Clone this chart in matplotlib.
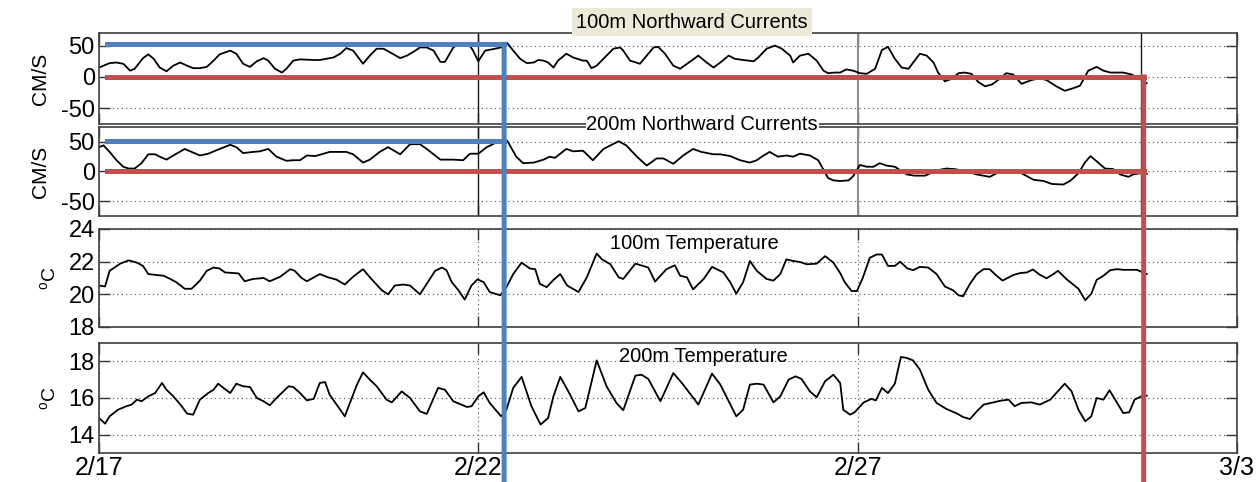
import matplotlib.pyplot as plt
from matplotlib.patches import ConnectionPatch
from matplotlib.transforms import blended_transform_factory

plt.rcParams['font.family'] = ['Liberation Sans', 'DejaVu Sans']
plt.rcParams['mathtext.fontset'] = 'custom'
plt.rcParams['mathtext.rm'] = 'Liberation Sans'
plt.rcParams['axes.unicode_minus'] = False

# time axis: days since 2/17
TICK_DAYS = [0, 5, 10, 15]
TICK_LABELS = ['2/17', '2/22', '2/27', '3/3']

# 100m northward current (cm/s)
NC100_DAY = [0.00, 0.14, 0.23, 0.32, 0.41, 0.47, 0.58, 0.65, 0.72, 0.80,
             0.89, 0.98, 1.07, 1.16, 1.24, 1.33, 1.42, 1.51, 1.59, 1.73,
             1.81, 1.90, 1.99, 2.08, 2.17, 2.23, 2.32, 2.41, 2.47, 2.56,
             2.65, 2.83, 2.91, 3.00, 3.09, 3.18, 3.26, 3.35, 3.48, 3.57,
             3.66, 3.75, 3.84, 3.97, 4.06, 4.17,
             4.23, 4.32, 4.41, 4.50, 4.56, 4.67, 4.76, 4.87, 4.93, 5.00,
             5.09, 5.18, 5.26, 5.33, 5.38, 5.46, 5.55, 5.64, 5.73, 5.79,
             5.86, 5.92, 5.99, 6.05, 6.16, 6.25, 6.38, 6.43, 6.49, 6.56,
             6.69, 6.78, 6.87, 6.91, 7.00, 7.13, 7.22, 7.31, 7.37, 7.46,
             7.57, 7.66, 7.75, 7.81, 7.90, 8.01, 8.10, 8.19, 8.30, 8.38,
             8.49, 8.63, 8.69, 8.80, 8.91, 9.00, 9.11, 9.15, 9.24, 9.35,
             9.46, 9.55, 9.61, 9.70,
             9.77, 9.85, 9.94, 10.03, 10.12, 10.23, 10.32, 10.40, 10.49, 10.58,
             10.67, 10.82, 10.91, 11.00, 11.06, 11.15, 11.24, 11.33, 11.41, 11.50,
             11.59, 11.68, 11.77, 11.85, 11.96, 12.05, 12.16, 12.29, 12.40, 12.49,
             12.62, 12.73, 12.84, 12.93, 13.04, 13.15, 13.24, 13.33, 13.50, 13.61,
             13.72, 13.81]
NC100_VAL = [15, 22, 23, 21, 10, 13, 30, 36, 29, 15,
             9, 18, 23, 18, 14, 14, 16, 26, 36, 42,
             37, 21, 16, 25, 30, 26, 13, 7, 13, 26,
             28, 27, 27, 29, 31, 37, 46, 42, 21, 34,
             45, 45, 39, 30, 34, 42,
             47, 47, 42, 24, 24, 47, 54, 53, 42, 25,
             42, 44, 46, 48, 54, 42, 29, 22, 23, 27,
             26, 23, 15, 26, 37, 31, 26, 26, 14, 18,
             34, 45, 47, 42, 26, 21, 34, 47, 48, 37,
             18, 13, 21, 26, 34, 23, 15, 23, 34, 29,
             27, 25, 31, 45, 50, 45, 34, 23, 34, 37,
             26, 10, 6, 7,
             7, 12, 10, 6, 5, 13, 43, 48, 29, 15,
             13, 37, 34, 23, 7, -7, -3, 6, 7, 5,
             -8, -15, -12, -5, 6, 4, -11, -5, -2, -5,
             -15, -22, -18, -14, 10, 16, 10, 7, 7, 4,
             -3, -10]

# 200m northward current (cm/s)
NC200_DAY = [0.00, 0.06, 0.14, 0.23, 0.32, 0.39, 0.47, 0.56, 0.65, 0.74,
             0.80, 0.89, 0.98, 1.13, 1.22, 1.33, 1.44, 1.59, 1.73, 1.81,
             1.90, 2.03, 2.12, 2.23, 2.34, 2.47, 2.56, 2.65, 2.74, 2.85,
             2.96, 3.04, 3.13, 3.26, 3.35, 3.48, 3.57, 3.70, 3.81, 3.97,
             4.10,
             4.23, 4.32, 4.50, 4.67, 4.80, 4.89, 5.00, 5.11, 5.24, 5.33,
             5.38, 5.50, 5.59, 5.73, 5.86, 5.94, 6.01, 6.16, 6.25, 6.38,
             6.51, 6.65, 6.85, 6.95, 7.09, 7.22, 7.35, 7.44, 7.57, 7.70,
             7.83, 7.94, 8.10, 8.19, 8.32, 8.45, 8.58, 8.67, 8.76, 8.84,
             8.95, 9.06, 9.15, 9.24, 9.37, 9.48, 9.55, 9.61, 9.68,
             9.77, 9.88, 9.94, 10.03, 10.12, 10.21, 10.29, 10.38, 10.49, 10.65,
             10.75, 10.89, 11.04, 11.17, 11.28, 11.44, 11.57, 11.74, 11.88, 12.01,
             12.16, 12.32, 12.45, 12.56, 12.71, 12.80, 12.91, 13.00, 13.07, 13.17,
             13.26, 13.37, 13.46, 13.57, 13.63, 13.72, 13.81]
NC200_VAL = [41, 44, 33, 19, 8, 5, 5, 14, 29, 29,
             25, 20, 27, 38, 33, 27, 30, 38, 45, 41,
             31, 33, 34, 38, 25, 18, 19, 19, 27, 26,
             30, 33, 33, 33, 29, 15, 20, 33, 41, 29,
             46,
             46, 38, 20, 20, 19, 30, 30, 41, 49, 52,
             52, 25, 14, 15, 20, 25, 23, 38, 34, 35,
             19, 38, 51, 44, 25, 10, 22, 22, 13, 27,
             38, 33, 29, 29, 26, 19, 15, 19, 27, 33,
             25, 27, 25, 30, 27, 19, 3, -11, -15,
             -16, -15, -8, 11, 8, 8, 14, 10, 8, -5,
             -7, -7, 2, 5, 4, 0, -5, -9, 0, 2,
             -3, -14, -16, -21, -22, -16, -3, 16, 26, 15,
             5, 4, -5, -9, -5, -3, -4]

# 100m temperature (deg C)
T100_DAY = [0.00, 0.08, 0.14, 0.28, 0.39, 0.50, 0.58, 0.65, 0.76, 0.85,
            0.94, 1.02, 1.13, 1.22, 1.33, 1.42, 1.51, 1.59, 1.66, 1.84,
            1.92, 2.03, 2.17, 2.25, 2.39, 2.52, 2.58, 2.67, 2.74, 2.91,
            3.02, 3.13, 3.24, 3.35, 3.48, 3.59, 3.73, 3.81, 3.90, 4.01,
            4.10,
            4.23, 4.32, 4.43, 4.52, 4.58, 4.65, 4.74, 4.82, 4.91, 4.99,
            5.07, 5.15, 5.29, 5.37, 5.46, 5.57, 5.68, 5.75, 5.81, 5.90,
            5.99, 6.08, 6.17, 6.32, 6.43, 6.56, 6.63, 6.74, 6.85, 6.91,
            7.07, 7.24, 7.33, 7.48, 7.59, 7.66, 7.75, 7.83, 7.97, 8.08,
            8.23, 8.32, 8.40, 8.49, 8.58, 8.67, 8.80, 8.89, 8.98, 9.06,
            9.15, 9.24, 9.33, 9.46, 9.57, 9.68,
            9.77, 9.83, 9.92, 9.99, 10.07, 10.16, 10.25, 10.32, 10.40, 10.49,
            10.56, 10.65, 10.73, 10.82, 10.93, 11.04, 11.15, 11.26, 11.33, 11.39,
            11.48, 11.57, 11.66, 11.74, 11.83, 11.91, 12.05, 12.14, 12.23, 12.31,
            12.40, 12.49, 12.58, 12.64, 12.75, 12.91, 13.00, 13.08, 13.15, 13.24,
            13.33, 13.42, 13.50, 13.59, 13.68, 13.81]
T100_VAL = [20.54, 20.48, 21.44, 21.88, 22.08, 21.94, 21.74, 21.24, 21.18, 21.14,
            20.94, 20.74, 20.34, 20.34, 20.84, 21.44, 21.64, 21.58, 21.34, 21.28,
            20.80, 20.94, 21.00, 20.80, 21.08, 21.54, 21.44, 21.00, 20.80, 21.24,
            21.04, 20.90, 20.60, 21.08, 21.54, 20.94, 20.24, 20.00, 20.54, 20.60,
            20.54,
            20.00, 20.64, 21.44, 21.64, 21.48, 20.74, 20.24, 19.68, 20.54, 20.92,
            20.74, 20.14, 19.94, 20.44, 21.24, 21.94, 21.58, 21.54, 20.64, 20.44,
            20.88, 21.24, 20.54, 20.14, 21.04, 22.50, 22.14, 21.84, 21.04, 20.94,
            21.88, 21.64, 20.78, 21.54, 21.78, 21.14, 21.04, 20.30, 20.94, 21.68,
            21.34, 20.74, 20.04, 20.74, 22.04, 21.44, 20.94, 20.84, 21.24, 22.14,
            22.04, 21.98, 21.84, 21.88, 22.34, 21.94,
            21.30, 20.74, 20.20, 20.20, 21.04, 22.24, 22.44, 22.44, 21.74, 21.74,
            22.00, 21.60, 21.48, 21.68, 21.64, 21.24, 20.48, 20.24, 19.94, 19.88,
            20.64, 21.24, 21.54, 21.54, 21.14, 20.84, 21.18, 21.30, 21.34, 21.52,
            21.20, 20.98, 21.24, 21.44, 20.94, 20.34, 19.64, 20.04, 20.88, 21.14,
            21.48, 21.54, 21.50, 21.50, 21.50, 21.24]

# 200m temperature (deg C)
T200_DAY = [0.00, 0.08, 0.14, 0.25, 0.36, 0.43, 0.50, 0.56, 0.65, 0.74,
            0.83, 0.89, 0.98, 1.09, 1.16, 1.24, 1.33, 1.44, 1.51, 1.57,
            1.64, 1.73, 1.81, 1.90, 1.99, 2.08, 2.17, 2.25, 2.34, 2.50,
            2.56, 2.65, 2.74, 2.83, 2.91, 2.98, 3.04, 3.24, 3.40, 3.48,
            3.57, 3.66, 3.79, 3.86, 3.99, 4.10,
            4.23, 4.32, 4.47, 4.56, 4.67, 4.85, 4.91, 5.00, 5.07, 5.15,
            5.30, 5.37, 5.46, 5.57, 5.70, 5.82, 5.92, 5.99, 6.08, 6.21,
            6.32, 6.41, 6.56, 6.69, 6.82, 6.91, 7.07, 7.15, 7.24, 7.40,
            7.57, 7.70, 7.90, 8.08, 8.19, 8.40, 8.49, 8.58, 8.67, 8.76,
            8.89, 8.98, 9.09, 9.18, 9.26, 9.37, 9.46, 9.57, 9.68,
            9.77, 9.81, 9.90, 9.96, 10.08, 10.18, 10.24, 10.32, 10.40, 10.49,
            10.57, 10.65, 10.73, 10.82, 10.93, 11.04, 11.17, 11.31, 11.39, 11.48,
            11.57, 11.66, 11.79, 11.88, 11.99, 12.07, 12.16, 12.29, 12.40, 12.54,
            12.65, 12.73, 12.82, 12.91, 13.00, 13.08, 13.15, 13.24, 13.32, 13.42,
            13.50, 13.58, 13.65, 13.74, 13.81]
T200_VAL = [14.91, 14.60, 15.00, 15.36, 15.55, 15.64, 15.91, 15.82, 16.09, 16.27,
            16.82, 16.45, 16.09, 15.55, 15.15, 15.09, 15.91, 16.27, 16.45, 16.78,
            16.55, 16.27, 16.78, 16.64, 16.60, 16.00, 15.82, 15.60, 16.00, 16.64,
            16.60, 16.27, 15.87, 15.95, 16.82, 16.87, 16.18, 15.00, 16.73, 17.40,
            17.00, 16.64, 15.91, 15.76, 16.36, 16.00,
            15.27, 15.13, 16.55, 16.45, 15.82, 15.51, 15.55, 16.09, 16.31, 15.73,
            15.00, 15.36, 16.55, 17.15, 15.55, 14.55, 14.91, 16.09, 17.15, 16.18,
            15.27, 15.45, 18.05, 16.64, 15.73, 15.33, 17.22, 17.27, 17.04, 15.82,
            17.36, 16.73, 15.64, 17.33, 16.73, 15.00, 15.36, 16.73, 16.78, 16.73,
            15.76, 16.09, 17.00, 17.18, 17.04, 16.36, 16.04, 16.91, 17.27,
            16.82, 15.36, 15.09, 15.22, 15.76, 15.95, 15.87, 16.55, 16.27, 16.78,
            18.24, 18.18, 18.05, 17.55, 16.45, 15.73, 15.40, 15.15, 14.96, 14.85,
            15.27, 15.64, 15.76, 15.85, 15.91, 15.55, 15.73, 15.76, 15.64, 15.91,
            16.42, 16.78, 16.36, 15.36, 14.73, 15.00, 16.00, 15.91, 16.42, 15.73,
            15.18, 15.22, 15.91, 16.09, 16.13]

# hand-drawn highlight markers
BLUE_DAY, BLUE_LEVEL = 5.34, 52
RED_DAY, RED_LEVEL = 13.77, 0
MARK_START = 0.1
BLUE = '#4F81BD'
RED = '#C0504D'
DOTS = (0, (1, 3))


def style_axis(ax, ylim, yticks, ylabel, label_x, label_size):
    ax.set_xlim(TICK_DAYS[0], TICK_DAYS[-1])
    ax.set_ylim(*ylim)
    ax.set_yticks(yticks)
    ax.set_xticks(TICK_DAYS)
    ax.tick_params(direction='in', length=8, width=1, top=True, right=True,
                   labelsize=17, color='0.2', pad=3)
    ax.tick_params(axis='x', labelbottom=False)
    for s in ax.spines.values():
        s.set_color('0.25')
        s.set_linewidth(1.2)
    ax.set_ylabel(ylabel, fontsize=label_size)
    ax.yaxis.set_label_coords(label_x, 0.5)


fig = plt.figure(figsize=(12.58, 4.82), dpi=100)
left, width = 0.0787, 0.9046
ax1 = fig.add_axes([left, 0.7427, width, 0.1888])
ax2 = fig.add_axes([left, 0.5519, width, 0.1846])
ax3 = fig.add_axes([left, 0.3216, width, 0.2033])
ax4 = fig.add_axes([left, 0.0602, width, 0.2282])

DEG_C = r'$\mathregular{^{o}C}$'
style_axis(ax1, (-75, 70), [-50, 0, 50], 'CM/S', -0.043, 15)
style_axis(ax2, (-75, 75), [-50, 0, 50], 'CM/S', -0.043, 15)
style_axis(ax3, (18, 24), [18, 20, 22, 24], DEG_C, -0.035, 14)
style_axis(ax4, (13, 19), [14, 16, 18], DEG_C, -0.035, 14)

for ax in (ax1, ax2):
    ax.grid(True, axis='y', linestyle=DOTS, color='0.3', lw=0.8)
    ax.axvline(5, color='0.1', lw=1)
    ax.axvline(10, color='0.55', lw=1.5)
    ax.axvline(13.73, color='0.1', lw=1)
for ax in (ax3, ax4):
    ax.grid(True, linestyle=DOTS, color='0.3', lw=0.8)

ax4.tick_params(axis='x', labelbottom=True, labelsize=18, pad=2)
ax4.set_xticklabels(TICK_LABELS)

ax1.plot(NC100_DAY, NC100_VAL, color='black', lw=1.3)
ax2.plot(NC200_DAY, NC200_VAL, color='black', lw=1.3)
ax3.plot(T100_DAY, T100_VAL, color='black', lw=1.3)
ax4.plot(T200_DAY, T200_VAL, color='black', lw=1.3)

ax1.text(0.521, 1.12, '100m Northward Currents', transform=ax1.transAxes,
         ha='center', va='center', fontsize=14.5, zorder=10, clip_on=False,
         bbox=dict(facecolor='#ECE9D8', edgecolor='none', pad=3))
ax2.text(0.53, 1.03, '200m Northward Currents', transform=ax2.transAxes,
         ha='center', va='center', fontsize=14.5, zorder=10, clip_on=False,
         bbox=dict(facecolor='white', edgecolor='none', pad=0.5))
ax3.text(0.523, 0.847, '100m Temperature', transform=ax3.transAxes,
         ha='center', va='center', fontsize=14.5)
ax4.text(0.531, 0.873, '200m Temperature', transform=ax4.transAxes,
         ha='center', va='center', fontsize=14.5)

# highlight lines
for ax in (ax1, ax2):
    ax.plot([MARK_START, BLUE_DAY], [BLUE_LEVEL, BLUE_LEVEL], color=BLUE,
            lw=3.6, solid_capstyle='projecting', clip_on=False, zorder=15)
    ax.plot([MARK_START, RED_DAY], [RED_LEVEL, RED_LEVEL], color=RED,
            lw=3.6, solid_capstyle='projecting', clip_on=False, zorder=15)

bottom = blended_transform_factory(ax4.transData, fig.transFigure)
for day, level, color in [(BLUE_DAY, BLUE_LEVEL, BLUE), (RED_DAY, RED_LEVEL, RED)]:
    con = ConnectionPatch(xyA=(day, level), coordsA=ax1.transData,
                          xyB=(day, 0), coordsB=bottom,
                          color=color, lw=3.6, capstyle='projecting', zorder=20)
    fig.add_artist(con)

fig.savefig('out.png', dpi=100)
